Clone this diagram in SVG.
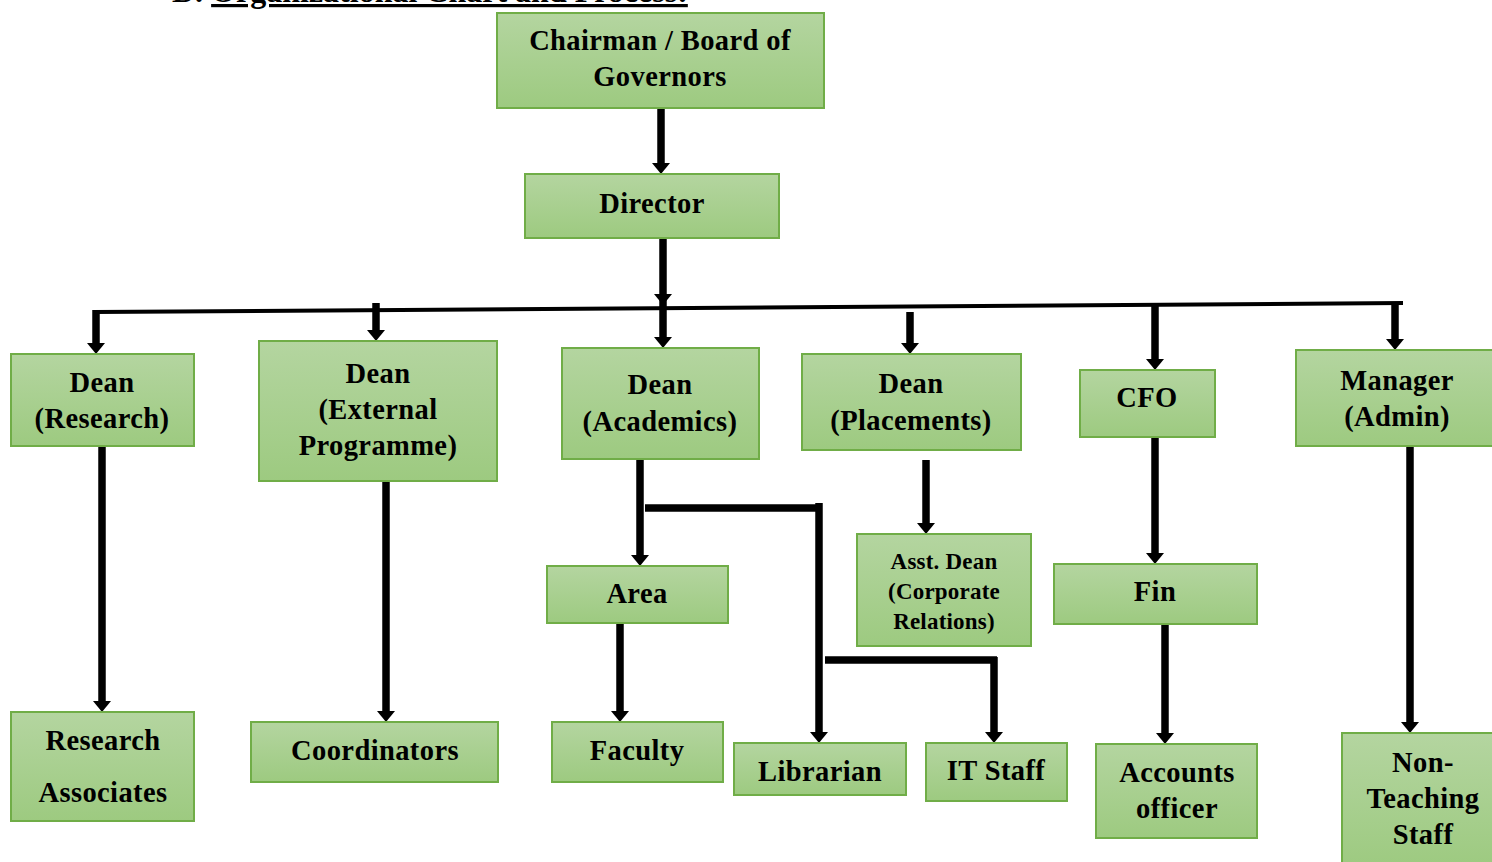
<svg xmlns="http://www.w3.org/2000/svg" width="1492" height="862" viewBox="0 0 1492 862">
<defs>
<linearGradient id="g" x1="0" y1="0" x2="0" y2="1">
<stop offset="0" stop-color="#b4d5a0"/>
<stop offset="1" stop-color="#9dca80"/>
</linearGradient>
<marker id="ah" markerUnits="userSpaceOnUse" markerWidth="12" markerHeight="18" refX="1" refY="9" orient="auto" viewBox="0 0 12 18">
<path d="M0,0 L11,9 L0,18 Z" fill="#000"/>
</marker>
</defs>
<style>
.box{fill:url(#g);stroke:#70ad47;stroke-width:2}
.t{font-family:"Liberation Serif","Times New Roman",serif;font-weight:bold;font-size:28.5px;letter-spacing:0.4px;fill:#000;text-anchor:middle}
.s{font-size:23px;letter-spacing:0.2px}
.c{stroke:#000;stroke-width:7.5;fill:none}
.ca{stroke:#000;stroke-width:7.5;fill:none;marker-end:url(#ah)}
.bus{stroke:#000;stroke-width:4;fill:none}
.title{font-family:"Liberation Serif","Times New Roman",serif;font-weight:bold;font-size:32px;fill:#000}
</style>
<rect width="1492" height="862" fill="#fff"/>
<text class="title" x="172" y="2">D. <tspan text-decoration="underline">Organizational Chart and Process:</tspan></text>

<g id="connectors">
<line class="ca" x1="661" y1="108" x2="661" y2="164"/>
<line class="ca" x1="663" y1="238" x2="663" y2="295"/>
<line class="bus" x1="95" y1="312" x2="1403" y2="303"/>
<line class="ca" x1="96" y1="310" x2="96" y2="344"/>
<line class="ca" x1="376" y1="303" x2="376" y2="331"/>
<line class="ca" x1="663" y1="300" x2="663" y2="338"/>
<line class="ca" x1="910" y1="312" x2="910" y2="344"/>
<line class="ca" x1="1155" y1="304" x2="1155" y2="360"/>
<line class="ca" x1="1395" y1="302" x2="1395" y2="340"/>
<line class="ca" x1="102" y1="446" x2="102" y2="702"/>
<line class="ca" x1="386" y1="481" x2="386" y2="712"/>
<line class="ca" x1="640" y1="459" x2="640" y2="556"/>
<line class="c" x1="645" y1="508" x2="822" y2="508"/>
<line class="ca" x1="819" y1="503" x2="819" y2="733"/>
<line class="c" x1="825" y1="660" x2="997" y2="660"/>
<line class="ca" x1="994" y1="657" x2="994" y2="733"/>
<line class="ca" x1="620" y1="620" x2="620" y2="712"/>
<line class="ca" x1="926" y1="460" x2="926" y2="524"/>
<line class="ca" x1="1155" y1="425" x2="1155" y2="554"/>
<line class="ca" x1="1165" y1="624" x2="1165" y2="734"/>
<line class="ca" x1="1410" y1="446" x2="1410" y2="723"/>
</g>

<g id="chairman"><rect class="box" x="497" y="13" width="327" height="95"/><text class="t" x="660" y="50">Chairman / Board of</text><text class="t" x="660" y="86">Governors</text></g>
<g id="director"><rect class="box" x="525" y="174" width="254" height="64"/><text class="t" x="652" y="213">Director</text></g>
<g id="dean-research"><rect class="box" x="11" y="354" width="183" height="92"/><text class="t" x="102" y="392">Dean</text><text class="t" x="102" y="428">(Research)</text></g>
<g id="dean-external"><rect class="box" x="259" y="341" width="238" height="140"/><text class="t" x="378" y="383">Dean</text><text class="t" x="378" y="419">(External</text><text class="t" x="378" y="455">Programme)</text></g>
<g id="dean-academics"><rect class="box" x="562" y="348" width="197" height="111"/><text class="t" x="660" y="394">Dean</text><text class="t" x="660" y="431">(Academics)</text></g>
<g id="dean-placements"><rect class="box" x="802" y="354" width="219" height="96"/><text class="t" x="911" y="393">Dean</text><text class="t" x="911" y="430">(Placements)</text></g>
<g id="cfo"><rect class="box" x="1080" y="370" width="135" height="67"/><text class="t" x="1147" y="407">CFO</text></g>
<g id="manager-admin"><rect class="box" x="1296" y="350" width="200" height="96"/><text class="t" x="1397" y="390">Manager</text><text class="t" x="1397" y="426">(Admin)</text></g>
<g id="area"><rect class="box" x="547" y="566" width="181" height="57"/><text class="t" x="637" y="603">Area</text></g>
<g id="faculty"><rect class="box" x="552" y="722" width="171" height="60"/><text class="t" x="637" y="760">Faculty</text></g>
<g id="librarian"><rect class="box" x="734" y="743" width="172" height="52"/><text class="t" x="820" y="781">Librarian</text></g>
<g id="it-staff"><rect class="box" x="926" y="743" width="141" height="58"/><text class="t" x="996" y="780">IT Staff</text></g>
<g id="asst-dean"><rect class="box" x="857" y="534" width="174" height="112"/><text class="t s" x="944" y="569">Asst. Dean</text><text class="t s" x="944" y="599">(Corporate</text><text class="t s" x="944" y="629">Relations)</text></g>
<g id="fin"><rect class="box" x="1054" y="564" width="203" height="60"/><text class="t" x="1155" y="601">Fin</text></g>
<g id="accounts-officer"><rect class="box" x="1096" y="744" width="161" height="94"/><text class="t" x="1177" y="782">Accounts</text><text class="t" x="1177" y="818">officer</text></g>
<g id="non-teaching"><rect class="box" x="1342" y="733" width="154" height="135"/><text class="t" x="1423" y="772">Non-</text><text class="t" x="1423" y="808">Teaching</text><text class="t" x="1423" y="844">Staff</text></g>
<g id="research-associates"><rect class="box" x="11" y="712" width="183" height="109"/><text class="t" x="103" y="750">Research</text><text class="t" x="103" y="802">Associates</text></g>
<g id="coordinators"><rect class="box" x="251" y="722" width="247" height="60"/><text class="t" x="375" y="760">Coordinators</text></g>
</svg>
